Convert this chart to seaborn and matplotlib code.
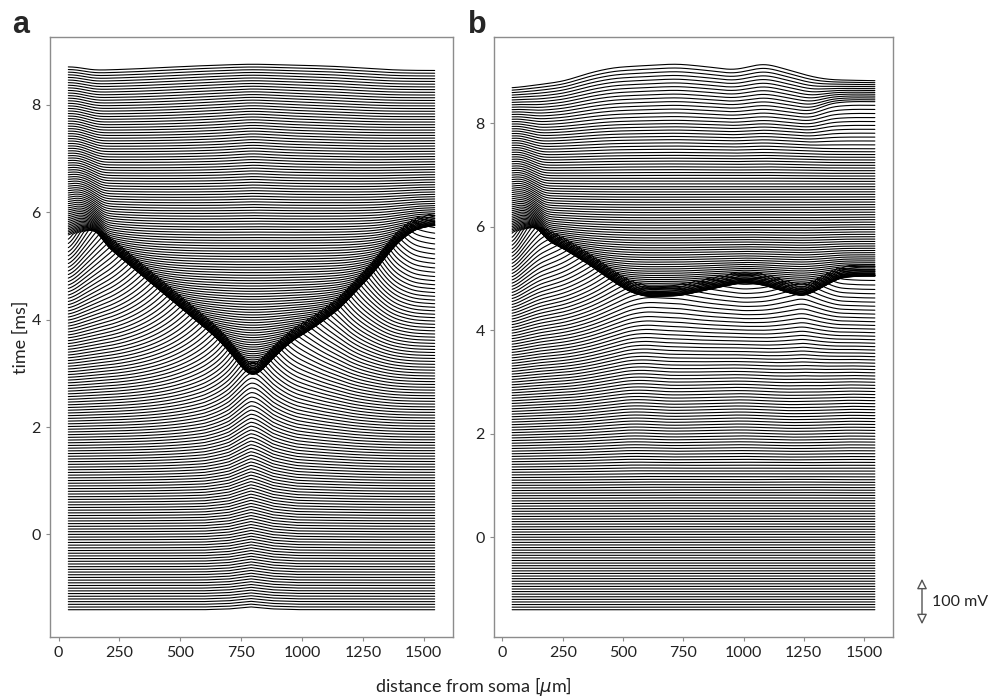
import numpy as np
import pandas as pd
import seaborn as sns
import matplotlib.pyplot as plt

# ---------------- values ----------------
trace_t_first = -1.4
trace_t_last = 8.76
n_traces = 204
dist_first, dist_last = 40, 1545
mv_scale = 0.95          # 100 mV expressed in ms-units of the y axis

# panel a: position of the spike crest (dark wavefront)
a_front_dist = [40, 100, 171, 335, 499, 650, 720, 760, 795, 830, 870, 950, 1050, 1150, 1290, 1386, 1460, 1545]
a_front_time = [5.56, 5.64, 5.69, 5.07, 4.45, 3.88, 3.53, 3.28, 3.14, 3.25, 3.46, 3.80, 4.08, 4.41, 5.08, 5.63, 5.90, 5.98]
a_amp_dist = [40, 110, 171, 1545]
a_amp = [0.45, 0.80, 1.00, 1.00]
a_fall_dist = [40, 120, 190, 1545]
a_fall_tau = [2.0, 1.1, 0.45, 0.45]
# panel a: local stimulus bump near 790 um before the spike
a_stim_dist = [600, 700, 790, 880, 980]
a_stim_shape = [0.0, 0.25, 1.0, 0.25, 0.0]
a_stim_time = [-1.4, 0.0, 1.0, 2.0, 2.6]
a_stim_amp = [0.05, 0.10, 0.16, 0.22, 0.22]

# panel b: position of the spike crest
b_front_dist = [40, 100, 156, 253, 363, 460, 529, 598, 736, 874, 999, 1082, 1178, 1247, 1317, 1399, 1480, 1545]
b_front_time = [5.88, 5.97, 6.02, 5.80, 5.48, 5.16, 4.96, 4.87, 4.89, 5.03, 5.15, 5.10, 4.96, 4.87, 5.03, 5.24, 5.27, 5.27]
b_amp_dist = [40, 100, 156, 1545]
b_amp = [0.45, 0.80, 1.00, 1.00]
b_fall_dist = [40, 110, 180, 1545]
b_fall_tau = [2.0, 1.1, 0.45, 0.45]
# panel b: slow synaptic depolarisation before the spike
b_slow_dist = [40, 300, 530, 700, 1000, 1240, 1420, 1545]
b_slow_amp = [0.05, 0.12, 0.30, 0.14, 0.34, 0.12, 0.34, 0.30]
b_slow_time = [1.1, 2.0, 3.0, 4.0, 4.6]
b_slow_frac = [0.0, 0.30, 0.62, 0.90, 1.00]
# panel b: late depolarisation (shape of the top trace)
b_top_dist = [41, 253, 363, 461, 723, 874, 957, 1013, 1082, 1192, 1289, 1358, 1565]
b_top_time = [8.68, 8.81, 8.98, 9.08, 9.15, 9.08, 9.02, 9.08, 9.17, 9.02, 8.89, 8.84, 8.82]
b_late_time = [6.9, 7.5, 8.0, 8.4, 8.76]
b_late_frac = [0.0, 0.12, 0.35, 0.70, 1.00]
# panel b: transient at the distal end near the top
b_blob_dist = [1280, 1360, 1450, 1545]
b_blob_amp = [0.0, 0.22, 0.26, 0.26]
b_blob_time = [7.6, 8.2, 8.55, 8.76]
b_blob_frac = [0.0, 1.0, 0.35, 0.0]

x_ticks = [0, 250, 500, 750, 1000, 1250, 1500]
y_ticks = [0, 2, 4, 6, 8]

# ---------------- waveform model ----------------
TAU_R = 0.7                      # rise of the spike
AHP_DEPTH, AHP_ON, AHP_END, AHP_W = 0.15, 0.7, 5.0, 0.6   # after-hyperpolarisation
D = np.linspace(dist_first, dist_last, 500)


def smooth(v, sigma_um):
    step = D[1] - D[0]
    k = np.arange(-4 * sigma_um, 4 * sigma_um + step, step)
    k = np.exp(-0.5 * (k / sigma_um) ** 2)
    k /= k.sum()
    pad = len(k) // 2
    vp = np.concatenate([np.full(pad, v[0]), v, np.full(pad, v[-1])])
    return np.convolve(vp, k, mode="valid")[: len(v)]


def waveform(s, amp, slow, tau_d):
    pre = slow + (amp - slow) * np.exp(np.minimum(s, 0) / TAU_R)
    sp = np.maximum(s, 0)
    ahp = -AHP_DEPTH * (1 - np.exp(-sp / AHP_ON)) / (1 + np.exp((sp - AHP_END) / AHP_W))
    post = amp * np.exp(-sp / tau_d) + ahp
    return np.where(s < 0, pre, post)


def build(front_d, front_t, amp_d, amp_v, fall_d, fall_v, slow_fn, extra_fn):
    times = np.linspace(trace_t_first, trace_t_last, n_traces)
    amp = smooth(np.interp(D, amp_d, amp_v), 20)
    tau_d = smooth(np.interp(D, fall_d, fall_v), 20)
    T = smooth(np.interp(D, front_d, front_t), 22) - mv_scale * amp
    rows = []
    for i, t in enumerate(times):
        v = waveform(t - T, amp, slow_fn(t), tau_d) + extra_fn(t, T, amp, tau_d)
        rows.append(pd.DataFrame({"distance": D, "y": t + mv_scale * v, "trace": i}))
    return pd.concat(rows, ignore_index=True)


a_stim_profile = np.interp(D, a_stim_dist, a_stim_shape)
b_slow_profile = smooth(np.interp(D, b_slow_dist, b_slow_amp), 45)
b_top_profile = smooth(np.interp(D, b_top_dist, b_top_time), 35)
b_blob_profile = smooth(np.interp(D, b_blob_dist, b_blob_amp), 30)


def a_slow(t):
    return a_stim_profile * np.interp(t, a_stim_time, a_stim_amp)


def a_extra(t, T, amp, tau_d):
    return 0.0 * D


def b_slow(t):
    return b_slow_profile * np.interp(t, b_slow_time, b_slow_frac)


def b_extra(t, T, amp, tau_d):
    post_top = waveform(trace_t_last - T, amp, 0.0, tau_d)
    w = (b_top_profile - trace_t_last) / mv_scale - post_top
    late = w * np.interp(t, b_late_time, b_late_frac)
    blob = b_blob_profile * np.interp(t, b_blob_time, b_blob_frac)
    return late + blob


df_a = build(a_front_dist, a_front_time, a_amp_dist, a_amp, a_fall_dist, a_fall_tau, a_slow, a_extra)
df_b = build(b_front_dist, b_front_time, b_amp_dist, b_amp, b_fall_dist, b_fall_tau, b_slow, b_extra)

# ---------------- drawing ----------------
sns.set_theme(style="ticks")
plt.rcParams["font.family"] = ["Lato", "DejaVu Sans"]
plt.rcParams["mathtext.fontset"] = "dejavusans"

fig = plt.figure(figsize=(9.99, 6.96), dpi=100)
ax_a = fig.add_axes([50 / 999, 59 / 696, 403 / 999, 600 / 696])
ax_b = fig.add_axes([494 / 999, 59 / 696, 399 / 999, 600 / 696])

for ax, df in ((ax_a, df_a), (ax_b, df_b)):
    sns.lineplot(data=df, x="distance", y="y", units="trace", estimator=None,
                 color="black", lw=0.8, ax=ax, legend=False, sort=False)
    ax.set_xlabel("")
    ax.set_ylabel("")
    ax.set_xticks(x_ticks)
    ax.set_yticks(y_ticks)
    for sp in ax.spines.values():
        sp.set_color("#8c8c8c")
        sp.set_linewidth(1.0)
    ax.tick_params(colors="#8c8c8c", labelcolor="#222222", labelsize=11.5, length=3, width=0.8)

ax_a.set_ylabel("time [ms]", fontsize=13, color="#222222", labelpad=2)
fig.text(473 / 999, 1 - 686 / 696, r"distance from soma [$\mu$m]", ha="center", va="center",
         fontsize=13, color="#222222")
fig.text(12 / 999, 1 - 25 / 696, "a", fontsize=22, fontweight="bold", family="Liberation Sans",
         ha="left", va="center")
fig.text(468 / 999, 1 - 25 / 696, "b", fontsize=22, fontweight="bold", family="Liberation Sans",
         ha="left", va="center")

# 100 mV scale bar
ax_b.annotate("", xy=(922 / 999, 1 - 627 / 696), xytext=(922 / 999, 1 - 576 / 696),
              xycoords="figure fraction", textcoords="figure fraction",
              arrowprops=dict(arrowstyle="<|-|>,head_length=0.5,head_width=0.25",
                              fc="white", ec="#555555", lw=1.0))
fig.text(932 / 999, 1 - 602 / 696, "100 mV", fontsize=11.5, color="#222222", va="center", ha="left")

fig.savefig("out.png", dpi=100)
